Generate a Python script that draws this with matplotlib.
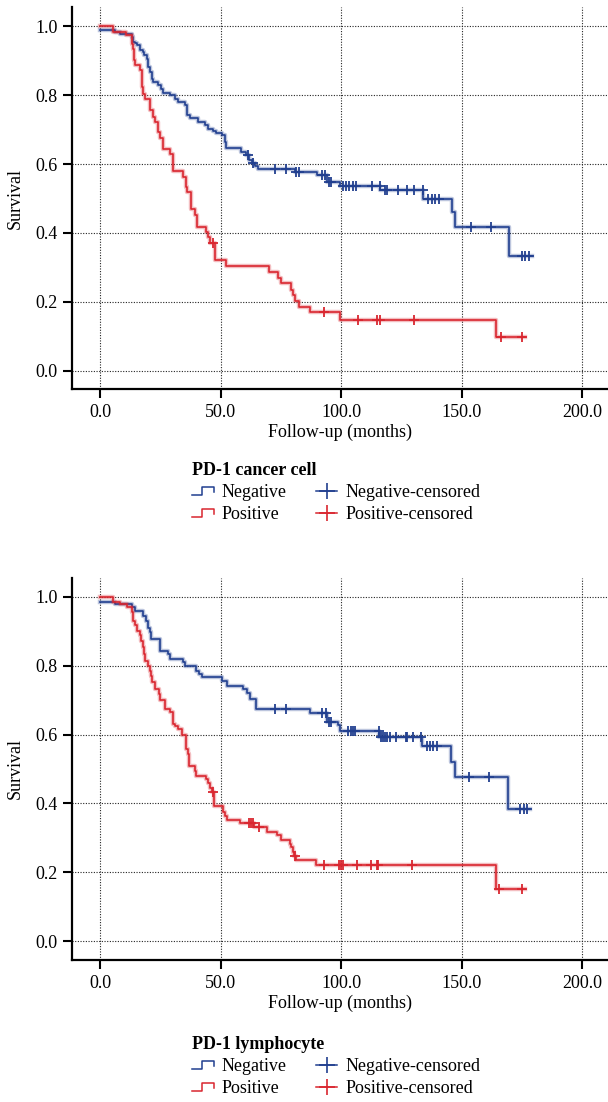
import numpy as np
import matplotlib
matplotlib.use("Agg")
import matplotlib.pyplot as plt
import matplotlib.patheffects as pe
from matplotlib.lines import Line2D
from matplotlib.legend_handler import HandlerBase

COLOR_NEG = "#213f8f"
COLOR_POS = "#d9262f"
FS = 13

plt.rcParams.update({
    "font.family": ["Liberation Serif", "DejaVu Serif"],
    "font.size": FS,
})

# ---- PD-1 cancer cell ----
cc_neg_t = [0, 6.2, 8.3, 13.1, 13.8, 14.5, 15.2, 16.5, 17.6, 18.2, 19.3, 20.0, 20.7,
            21.3, 22.0, 24.1, 25.1, 25.9, 28.9, 31.0, 32.4, 35.1, 35.8, 37.2, 40.6,
            43.4, 44.8, 46.8, 48.2, 50.5, 51.7, 52.3, 58.5, 60.6, 61.8, 63.0, 64.0,
            65.3, 80.6, 89.8, 93.9, 99.4, 116.1, 133.9, 145.7, 147.1, 169.7]
cc_neg_s = [0.990, 0.983, 0.977, 0.968, 0.955, 0.952, 0.945, 0.932, 0.925, 0.916, 0.906,
            0.882, 0.868, 0.848, 0.838, 0.829, 0.818, 0.807, 0.800, 0.790, 0.781, 0.771,
            0.742, 0.735, 0.723, 0.713, 0.703, 0.695, 0.690, 0.683, 0.664, 0.648, 0.636,
            0.626, 0.612, 0.602, 0.594, 0.586, 0.578, 0.568, 0.549, 0.536, 0.525, 0.498,
            0.460, 0.418, 0.334]
cc_neg_end = 179.1
cc_neg_cens = [61.5, 63.5, 72.7, 76.9, 81.3, 82.3, 92.0, 93.4, 94.8, 95.7, 100.6, 101.9,
               103.3, 104.7, 106.1, 112.9, 116.0, 118.2, 119.1, 123.3, 127.4, 130.2,
               133.8, 136.1, 137.5, 138.8, 140.5, 153.8, 162.1, 174.9, 176.3, 177.7]

cc_pos_t = [0, 5.2, 10.7, 13.1, 13.8, 14.1, 14.5, 16.5, 17.2, 17.9, 18.6, 20.7, 21.8,
            22.7, 24.1, 24.8, 25.9, 28.9, 30.0, 34.2, 35.5, 36.1, 37.5, 39.3, 40.0, 43.8,
            44.8, 45.5, 47.5, 52.1, 69.8, 73.6, 74.9, 79.2, 79.9, 80.6, 82.4, 87.0, 99.6,
            164.2]
cc_pos_s = [1.0, 0.983, 0.975, 0.949, 0.935, 0.901, 0.887, 0.872, 0.824, 0.805, 0.790,
            0.757, 0.737, 0.723, 0.694, 0.677, 0.645, 0.629, 0.580, 0.563, 0.534, 0.520,
            0.469, 0.452, 0.418, 0.404, 0.387, 0.370, 0.322, 0.304, 0.286, 0.269, 0.254,
            0.235, 0.220, 0.203, 0.184, 0.169, 0.148, 0.098]
cc_pos_end = 176.3
cc_pos_cens = [46.8, 93.0, 106.8, 115.0, 116.0, 130.2, 166.4, 174.9]

# ---- PD-1 lymphocyte ----
ly_neg_t = [0, 6.2, 13.1, 14.5, 17.9, 19.0, 20.0, 20.7, 21.0, 24.8, 28.2, 29.0, 34.4,
            35.3, 39.8, 40.8, 42.3, 50.5, 52.6, 59.2, 61.0, 62.3, 64.7, 86.9, 93.9, 98.7,
            99.5, 115.7, 133.3, 145.3, 147.1, 169.1]
ly_neg_s = [0.986, 0.980, 0.971, 0.958, 0.946, 0.931, 0.911, 0.897, 0.878, 0.844, 0.834,
            0.820, 0.812, 0.800, 0.786, 0.776, 0.766, 0.756, 0.740, 0.731, 0.721, 0.703,
            0.674, 0.663, 0.637, 0.628, 0.610, 0.592, 0.566, 0.521, 0.478, 0.384]
ly_neg_end = 178.4
ly_neg_cens = [72.7, 76.9, 92.0, 93.7, 94.8, 95.7, 102.6, 104.0, 104.9, 105.8, 115.6,
               116.4, 117.4, 118.2, 119.1, 120.1, 122.6, 126.7, 127.4, 129.8, 132.9,
               135.5, 136.9, 138.2, 139.8, 153.0, 161.4, 174.2, 175.6, 177.0]

ly_pos_t = [0, 5.2, 8.3, 11.0, 13.1, 13.8, 14.5, 15.2, 16.3, 16.9, 17.8, 18.3, 18.7,
            20.0, 20.5, 21.1, 21.5, 22.9, 24.2, 24.9, 27.0, 29.0, 30.1, 31.0, 32.2, 34.0,
            35.4, 36.4, 36.8, 39.2, 39.7, 43.8, 44.8, 45.7, 46.5, 47.2, 51.0, 51.9, 52.6,
            58.1, 63.6, 69.3, 73.3, 75.1, 78.8, 79.2, 79.9, 80.4, 81.0, 89.5, 164.0]
ly_pos_s = [1.0, 0.986, 0.980, 0.971, 0.956, 0.931, 0.917, 0.902, 0.888, 0.873, 0.854,
            0.834, 0.815, 0.798, 0.786, 0.771, 0.752, 0.733, 0.718, 0.699, 0.674, 0.665,
            0.631, 0.626, 0.615, 0.600, 0.558, 0.544, 0.510, 0.495, 0.480, 0.471, 0.458,
            0.444, 0.432, 0.392, 0.374, 0.364, 0.353, 0.342, 0.330, 0.318, 0.308, 0.294,
            0.282, 0.272, 0.259, 0.248, 0.236, 0.221, 0.151]
ly_pos_end = 176.3
ly_pos_cens = [46.9, 61.7, 62.7, 63.4, 65.8, 80.8, 92.7, 98.9, 99.9, 100.8, 106.3, 112.3,
               114.7, 115.4, 129.5, 165.6, 174.9]

x_ticks = [0, 50, 100, 150, 200]
y_ticks = [0.0, 0.2, 0.4, 0.6, 0.8, 1.0]


class StepHandler(HandlerBase):
    # draws the little step glyph used for the survival lines in the legend
    def create_artists(self, legend, orig_handle, xdescent, ydescent, width, height,
                       fontsize, trans):
        xs = np.array([0, 0.45, 0.45, 1.0, 1.0]) * width - xdescent
        ys = np.array([0.15, 0.15, 0.8, 0.8, 0.4]) * height - ydescent
        ln = Line2D(xs, ys, color=orig_handle.get_color(), lw=1.1, transform=trans)
        return [ln]


def draw_curve(ax, times, surv, end, cens, color):
    t = np.array(times + [end])
    s = np.array(surv + [surv[-1]])
    halo = [pe.Stroke(linewidth=3.2, foreground=color, alpha=0.3), pe.Normal()]
    ax.step(t, s, where="post", color=color, lw=1.2, zorder=3, path_effects=halo)
    idx = np.searchsorted(times, cens, side="right") - 1
    cy = np.array(surv)[idx]
    ax.plot(cens, cy, ls="none", marker="+", ms=7.5, mew=1.3, color=color, zorder=4)


def panel(fig, rect, curves, title, leg_y):
    ax = fig.add_axes(rect)
    for times, surv, end, cens, color in curves:
        draw_curve(ax, times, surv, end, cens, color)

    ax.set_xlim(-11.7, 210.6)
    ax.set_ylim(-0.055, 1.055)
    ax.set_xticks(x_ticks)
    ax.set_yticks(y_ticks)
    ax.set_xticklabels([f"{v:.1f}" for v in x_ticks])
    ax.set_yticklabels([f"{v:.1f}" for v in y_ticks])
    ax.grid(True, color="#222222", ls=(0, (1, 1.4)), lw=0.8, zorder=1)
    ax.set_axisbelow(True)
    for side in ["top", "right"]:
        ax.spines[side].set_visible(False)
    for side in ["left", "bottom"]:
        ax.spines[side].set_linewidth(1.6)
    ax.tick_params(length=6.5, width=1.5, pad=4, labelsize=FS)
    ax.set_xlabel("Follow-up (months)", labelpad=2)
    ax.set_ylabel("Survival", labelpad=8)

    h_neg = Line2D([], [], color=COLOR_NEG)
    h_pos = Line2D([], [], color=COLOR_POS)
    h_negc = Line2D([], [], color=COLOR_NEG, lw=1.1, marker="+", ms=11, mew=1.2)
    h_posc = Line2D([], [], color=COLOR_POS, lw=1.1, marker="+", ms=11, mew=1.2)
    fig.legend([h_neg, h_pos, h_negc, h_posc],
               ["Negative", "Positive", "Negative-censored", "Positive-censored"],
               handler_map={h_neg: StepHandler(), h_pos: StepHandler()},
               ncol=2, loc="upper left", bbox_to_anchor=(0.3158, leg_y),
               frameon=False, borderpad=0, borderaxespad=0, title=title,
               title_fontproperties={"weight": "bold", "size": FS},
               alignment="left", handlelength=1.2, handletextpad=0.45,
               columnspacing=1.6, labelspacing=0.28, fontsize=FS)
    return ax


fig = plt.figure(figsize=(6.08, 11.02), dpi=100)

panel(fig, [0.1184, 0.6466, 0.8816, 0.3466],
      [(cc_neg_t, cc_neg_s, cc_neg_end, cc_neg_cens, COLOR_NEG),
       (cc_pos_t, cc_pos_s, cc_pos_end, cc_pos_cens, COLOR_POS)],
      "PD-1 cancer cell", 1 - 462 / 1102)

panel(fig, [0.1184, 0.1289, 0.8816, 0.3466],
      [(ly_neg_t, ly_neg_s, ly_neg_end, ly_neg_cens, COLOR_NEG),
       (ly_pos_t, ly_pos_s, ly_pos_end, ly_pos_cens, COLOR_POS)],
      "PD-1 lymphocyte", 1 - 1036 / 1102)

fig.savefig("out.png", dpi=100)
